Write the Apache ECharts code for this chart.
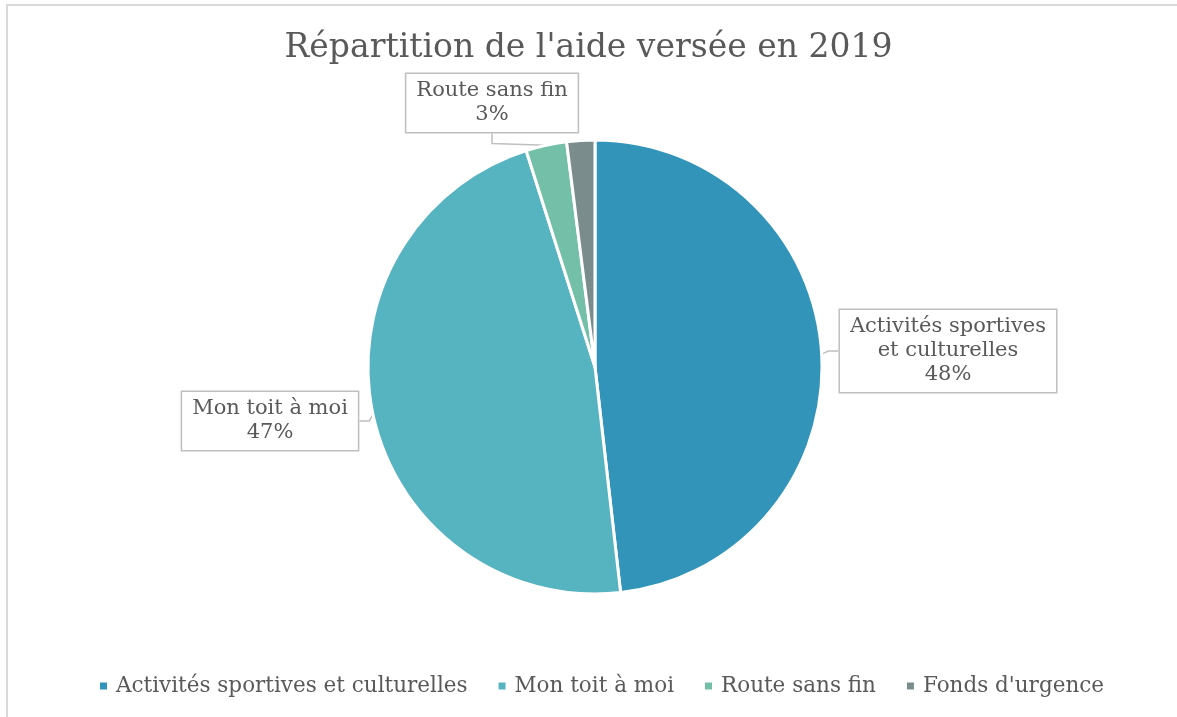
<!DOCTYPE html>
<html>
<head>
<meta charset="utf-8">
<script src="https://cdn.jsdelivr.net/npm/echarts@6/dist/echarts.min.js"></script>
<style>
  html, body { margin: 0; padding: 0; background: #fff; }
  #frame {
    position: absolute; left: 6px; top: 4px; width: 1180px; height: 720px;
    border-left: 2px solid #d9d9d9; border-top: 2px solid #d9d9d9;
  }
  #chart { position: absolute; left: 0; top: 0; width: 1177px; height: 717px; }
</style>
</head>
<body>
<div id="frame"></div>
<div id="chart"></div>
<script>
// data
const categories = ['Activités sportives et culturelles', 'Mon toit à moi', 'Route sans fin', "Fonds d'urgence"];
const labelNames = ['Activités sportives\net culturelles', 'Mon toit à moi', 'Route sans fin', ''];
const shares = [48.2, 46.9, 2.9, 2.0];
const colors = ['#3194b8', '#56b3c0', '#73bfa8', '#7b8c8c'];

// where the callout boxes sit (centre of box)
const calloutPos = [[948, 351], [270, 421], [492, 103], null];

const FONT = "Rockwell, 'DejaVu Serif', serif";
const TEXT = '#595959';

const chart = echarts.init(document.getElementById('chart'));

const data = categories.map((name, i) => ({
  name,
  value: shares[i],
  itemStyle: { color: colors[i] },
  label: { show: !!calloutPos[i] },
  labelLine: { show: !!calloutPos[i] }
}));

chart.setOption({
  animation: false,
  title: {
    text: "Répartition de l'aide versée en 2019",
    left: 'center',
    top: 27,
    textStyle: { fontFamily: FONT, fontSize: 33, fontWeight: 'normal', color: TEXT }
  },
  legend: {
    bottom: 15,
    left: 93,
    icon: 'rect',
    itemWidth: 9,
    itemHeight: 9,
    itemGap: 29,
    textStyle: { fontFamily: FONT, fontSize: 21.5, color: TEXT, padding: [0, 0, 0, 3] },
    data: categories
  },
  series: [{
    type: 'pie',
    center: [595, 367],
    radius: [0, 227],
    startAngle: 90,
    clockwise: true,
    itemStyle: { borderColor: '#fff', borderWidth: 3 },
    label: {
      position: 'outside',
      formatter: (p) => labelNames[p.dataIndex] + '\n' + Math.round(p.percent) + '%',
      fontFamily: FONT,
      fontSize: 21,
      lineHeight: 24,
      color: TEXT,
      align: 'center',
      backgroundColor: '#fff',
      borderColor: '#bfbfbf',
      borderWidth: 1.5,
      padding: [6, 10, 4, 10]
    },
    labelLine: {
      length: 10,
      length2: 10,
      lineStyle: { color: '#bfbfbf', width: 1.5 }
    },
    labelLayout: (params) => {
      const pos = calloutPos[params.dataIndex];
      if (!pos) return {};
      return { x: pos[0], y: pos[1], align: 'center', verticalAlign: 'middle' };
    },
    data
  }]
});
</script>
</body>
</html>
